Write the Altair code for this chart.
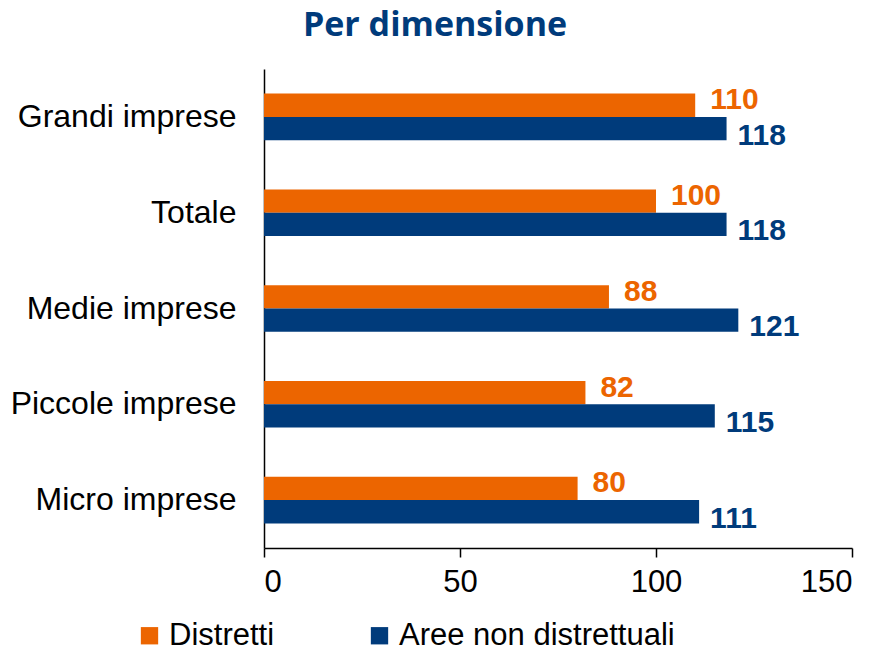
import altair as alt
import pandas as pd

categories = ["Grandi imprese", "Totale", "Medie imprese", "Piccole imprese", "Micro imprese"]
series_names = ["Distretti", "Aree non distrettuali"]
distretti = [110, 100, 88, 82, 80]
aree = [118, 118, 121, 115, 111]
x_ticks = [0, 50, 100, 150]

ORANGE = "#EC6500"
BLUE = "#003B7B"

rows = []
for c, d, a in zip(categories, distretti, aree):
    rows.append({"cat": c, "serie": series_names[0], "val": d})
    rows.append({"cat": c, "serie": series_names[1], "val": a})
df = pd.DataFrame(rows)

FONT = "Liberation Sans"

color_scale = alt.Scale(domain=series_names, range=[ORANGE, BLUE])

x_enc = alt.X(
    "val:Q",
    scale=alt.Scale(domain=[0, 150], nice=False),
    axis=alt.Axis(
        values=x_ticks, title=None, grid=False, domainColor="black", domainWidth=1.5,
        tickColor="black", tickWidth=1.5, tickSize=9, labelFont=FONT, labelFontSize=31,
        labelColor="black", labelPadding=10,
    ),
)
y_enc = alt.Y(
    "cat:N", sort=categories,
    scale=alt.Scale(paddingInner=0.513, paddingOuter=0.2565),
    axis=alt.Axis(
        title=None, ticks=False, domainColor="black", domainWidth=1.5, labelFont=FONT,
        labelFontSize=32, labelColor="black", labelPadding=28, labelLimit=400,
    ),
)
yoff = alt.YOffset("serie:N", sort=series_names, scale=alt.Scale(paddingInner=0, paddingOuter=0))

base = alt.Chart(df)

bars = base.mark_bar(size=23.3).encode(
    x=x_enc,
    y=y_enc,
    yOffset=yoff,
    color=alt.Color(
        "serie:N", scale=color_scale, sort=series_names,
        legend=alt.Legend(
            title=None, orient="none", direction="horizontal", legendX=-130, legendY=551,
            symbolType="square", symbolSize=300, symbolStrokeWidth=0, symbolOpacity=1,
            labelFont=FONT, labelFontSize=31, labelColor="black", columnPadding=89,
            labelOffset=4, labelLimit=500,
        ),
    ),
)

lab_d = base.transform_filter(alt.datum.serie == series_names[0]).mark_text(
    align="left", baseline="middle", dx=15, dy=-5, font=FONT, fontSize=30, fontWeight="bold",
    color=ORANGE,
).encode(x="val:Q", y=alt.Y("cat:N", sort=categories), yOffset=yoff, text="val:Q")

lab_a = base.transform_filter(alt.datum.serie == series_names[1]).mark_text(
    align="left", baseline="middle", dx=11, dy=7, font=FONT, fontSize=30, fontWeight="bold",
    color=BLUE,
).encode(x="val:Q", y=alt.Y("cat:N", sort=categories), yOffset=yoff, text="val:Q")

chart = alt.layer(bars, lab_d, lab_a).properties(
    width=588,
    height=479,
    autosize=alt.AutoSizeParams(type="none"),
    padding={"left": 256, "top": 61, "right": 20, "bottom": 110},
    title=alt.TitleParams(
        "Per dimensione", font="Open Sans", fontSize=34, fontWeight="bold", color=BLUE,
        anchor="middle", frame="group", dx=-123, offset=26,
    ),
).configure(background="white").configure_view(stroke="transparent", strokeWidth=0)

chart.save("out.html", embed_options={"renderer": "svg", "actions": False})
